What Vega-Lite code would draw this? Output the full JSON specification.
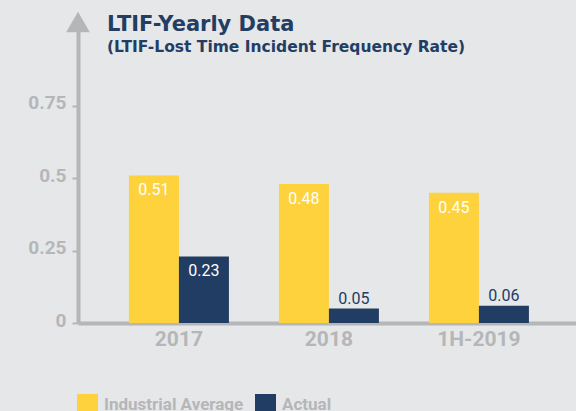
{
  "$schema": "https://vega.github.io/schema/vega-lite/v6.json",
  "autosize": "none",
  "width": 498,
  "height": 301,
  "padding": {"left": 78, "top": 22, "right": 0, "bottom": 88},
  "background": "#e6e7e9",
  "config": {"view": {"stroke": null}, "font": "Roboto"},
  "title": {
    "text": "LTIF-Yearly Data",
    "subtitle": "(LTIF-Lost Time Incident Frequency Rate)",
    "anchor": "start",
    "orient": "top",
    "frame": "group",
    "offset": -44,
    "dx": 29,
    "font": "DejaVu Sans",
    "fontSize": 21,
    "fontWeight": "bold",
    "color": "#233d63",
    "subtitleFont": "DejaVu Sans",
    "subtitleFontSize": 15.5,
    "subtitleFontWeight": "bold",
    "subtitleColor": "#233d63",
    "subtitlePadding": 5
  },
  "data": {
    "values": [
      {"period": "2017", "series": "Industrial Average", "value": 0.51},
      {"period": "2017", "series": "Actual", "value": 0.23},
      {"period": "2018", "series": "Industrial Average", "value": 0.48},
      {"period": "2018", "series": "Actual", "value": 0.05},
      {"period": "1H-2019", "series": "Industrial Average", "value": 0.45},
      {"period": "1H-2019", "series": "Actual", "value": 0.06}
    ]
  },
  "layer": [
    {
      "mark": {"type": "bar"},
      "encoding": {
        "x": {
          "field": "period",
          "type": "nominal",
          "sort": ["2017", "2018", "1H-2019"],
          "scale": {"paddingInner": 0, "paddingOuter": 0.16, "align": 0.54},
          "axis": {
            "title": null,
            "labelAngle": 0,
            "ticks": false,
            "domainColor": "#b5b6b8",
            "domainWidth": 4,
            "labelColor": "#b5b6b8",
            "labelFont": "Roboto",
            "labelFontSize": 21,
            "labelFontWeight": "bold",
            "labelPadding": 5
          }
        },
        "xOffset": {
          "field": "series",
          "sort": ["Industrial Average", "Actual"],
          "scale": {"paddingInner": 0, "paddingOuter": 0.5}
        },
        "y": {
          "field": "value",
          "type": "quantitative",
          "scale": {"domain": [0, 1.04], "nice": false},
          "axis": {
            "title": null,
            "values": [0, 0.25, 0.5, 0.75],
            "labelExpr": "datum.value + ''",
            "grid": false,
            "domainColor": "#b5b6b8",
            "domainWidth": 4,
            "tickColor": "#b5b6b8",
            "tickWidth": 2,
            "tickSize": 6,
            "labelColor": "#b5b6b8",
            "labelFont": "Roboto",
            "labelFontSize": 19,
            "labelFontWeight": "bold",
            "labelPadding": 6,
            "labelOffset": -3
          }
        },
        "color": {
          "field": "series",
          "type": "nominal",
          "scale": {"domain": ["Industrial Average", "Actual"], "range": ["#fed23d", "#223d63"]},
          "legend": {
            "title": null,
            "orient": "none",
            "direction": "horizontal",
            "legendX": -1,
            "legendY": 372,
            "symbolType": "square",
            "symbolSize": 441,
            "symbolStrokeWidth": 0,
            "symbolOpacity": 1,
            "labelColor": "#b5b6b8",
            "labelFont": "Roboto",
            "labelFontSize": 17,
            "labelFontWeight": "bold",
            "labelOffset": 6,
            "columnPadding": 11
          }
        }
      }
    },
    {
      "transform": [{"filter": "datum.value > 0.1"}],
      "mark": {"type": "text", "baseline": "top", "dy": 7, "color": "white", "fontSize": 16, "font": "Roboto", "fontWeight": "normal"},
      "encoding": {
        "x": {"field": "period", "type": "nominal", "sort": ["2017", "2018", "1H-2019"]},
        "xOffset": {"field": "series", "sort": ["Industrial Average", "Actual"]},
        "y": {"field": "value", "type": "quantitative"},
        "text": {"field": "value", "type": "quantitative", "format": ".2f"}
      }
    },
    {
      "transform": [{"filter": "datum.value <= 0.1"}],
      "mark": {"type": "text", "baseline": "alphabetic", "dy": -5, "color": "#223d63", "fontSize": 16, "font": "Roboto", "fontWeight": "normal"},
      "encoding": {
        "x": {"field": "period", "type": "nominal", "sort": ["2017", "2018", "1H-2019"]},
        "xOffset": {"field": "series", "sort": ["Industrial Average", "Actual"]},
        "y": {"field": "value", "type": "quantitative"},
        "text": {"field": "value", "type": "quantitative", "format": ".2f"}
      }
    },
    {
      "data": {"values": [{"tip": 1.04}]},
      "mark": {"type": "point", "shape": "triangle-up", "filled": true, "color": "#b5b6b8", "size": 560, "opacity": 1, "clip": false},
      "encoding": {
        "x": {"value": 0},
        "y": {"field": "tip", "type": "quantitative"}
      }
    }
  ]
}
